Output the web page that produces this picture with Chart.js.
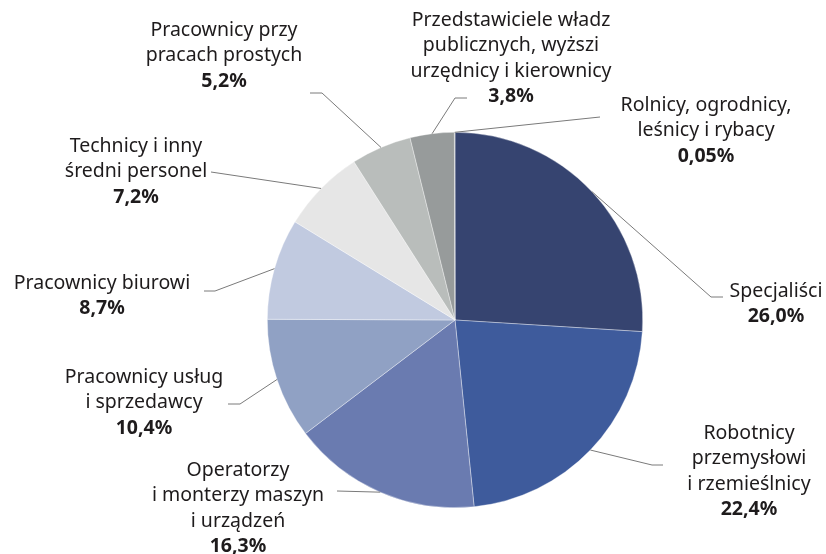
<!DOCTYPE html>
<html>
<head>
<meta charset="utf-8">
<script src="https://cdn.jsdelivr.net/npm/chart.js@4.4.0/dist/chart.umd.min.js"></script>
<style>
  html, body { margin: 0; padding: 0; background: #fff; }
  #wrap { width: 826px; height: 554px; }
</style>
</head>
<body>
<div id="wrap"><canvas id="pie" width="826" height="554"></canvas></div>
<script>
// categories (each label split into lines) and shares in %
var categories = [
  ['Specjaliści'],
  ['Robotnicy', 'przemysłowi', 'i rzemieślnicy'],
  ['Operatorzy', 'i monterzy maszyn', 'i urządzeń'],
  ['Pracownicy usług', 'i sprzedawcy'],
  ['Pracownicy biurowi'],
  ['Technicy i inny', 'średni personel'],
  ['Pracownicy przy', 'pracach prostych'],
  ['Przedstawiciele władz', 'publicznych, wyższi', 'urzędnicy i kierownicy'],
  ['Rolnicy, ogrodnicy,', 'leśnicy i rybacy']
];
var shares = [26.0, 22.4, 16.3, 10.4, 8.7, 7.2, 5.2, 3.8, 0.05];
var sliceColors = ['#364470', '#3e5b9c', '#6a7bb0', '#90a1c4', '#c1cae0', '#e6e6e6', '#b9bdbb', '#979b9b', '#979b9b'];

// label layout: text centre x, first line y, leader elbow, leader end
var labelLayout = [
  { x: 776, y: 291, elbow: [711, 297], end: [723, 297] },
  { x: 749, y: 433, elbow: [652, 465], end: [663, 465] },
  { x: 238, y: 470, elbow: [337, 491], end: [337, 491] },
  { x: 144, y: 377, elbow: [240, 404], end: [228, 404] },
  { x: 102, y: 283, elbow: [215, 291], end: [204, 291] },
  { x: 136, y: 146, elbow: [211, 172], end: [211, 172] },
  { x: 224, y: 30,  elbow: [322, 93],  end: [310, 93] },
  { x: 511, y: 20,  elbow: [455, 98],  end: [467, 98] },
  { x: 706, y: 105, elbow: [600, 117], end: [600, 117] }
];

var lineGap = 25.5;
var fontFamily = '"Noto Sans", "Open Sans", sans-serif';

function fmt(v) {
  var s = v < 0.1 ? v.toFixed(2) : v.toFixed(1);
  return s.replace('.', ',') + '%';
}

var labelPlugin = {
  id: 'pieLabels',
  afterDraw: function(chart) {
    var ctx = chart.ctx;
    var arcs = chart.getDatasetMeta(0).data;
    ctx.save();
    arcs.forEach(function(arc, i) {
      var p = arc.getProps(['x', 'y', 'startAngle', 'endAngle', 'outerRadius'], true);
      var mid = (p.startAngle + p.endAngle) / 2;
      var sx = p.x + Math.cos(mid) * p.outerRadius;
      var sy = p.y + Math.sin(mid) * p.outerRadius;
      var lay = labelLayout[i];

      ctx.strokeStyle = '#7a7a7a';
      ctx.lineWidth = 1;
      ctx.beginPath();
      ctx.moveTo(sx, sy);
      ctx.lineTo(lay.elbow[0], lay.elbow[1]);
      ctx.lineTo(lay.end[0], lay.end[1]);
      ctx.stroke();

      ctx.fillStyle = '#1e1b1c';
      ctx.textAlign = 'center';
      ctx.textBaseline = 'middle';
      var lines = categories[i];
      ctx.font = '19.5px ' + fontFamily;
      lines.forEach(function(t, k) {
        ctx.fillText(t, lay.x, lay.y + k * lineGap);
      });
      ctx.font = 'bold 19.5px ' + fontFamily;
      ctx.fillText(fmt(shares[i]), lay.x, lay.y + lines.length * lineGap);
    });
    ctx.restore();
  }
};

new Chart(document.getElementById('pie'), {
  type: 'pie',
  data: {
    labels: categories.map(function(c) { return c.join(' '); }),
    datasets: [{
      data: shares,
      backgroundColor: sliceColors,
      borderColor: 'rgba(255,255,255,0.6)',
      borderWidth: 0.6
    }]
  },
  options: {
    responsive: false,
    animation: false,
    layout: { padding: { top: 132, bottom: 46, left: 267, right: 183 } },
    plugins: {
      legend: { display: false },
      tooltip: { enabled: false }
    }
  },
  plugins: [labelPlugin]
});
</script>
</body>
</html>
